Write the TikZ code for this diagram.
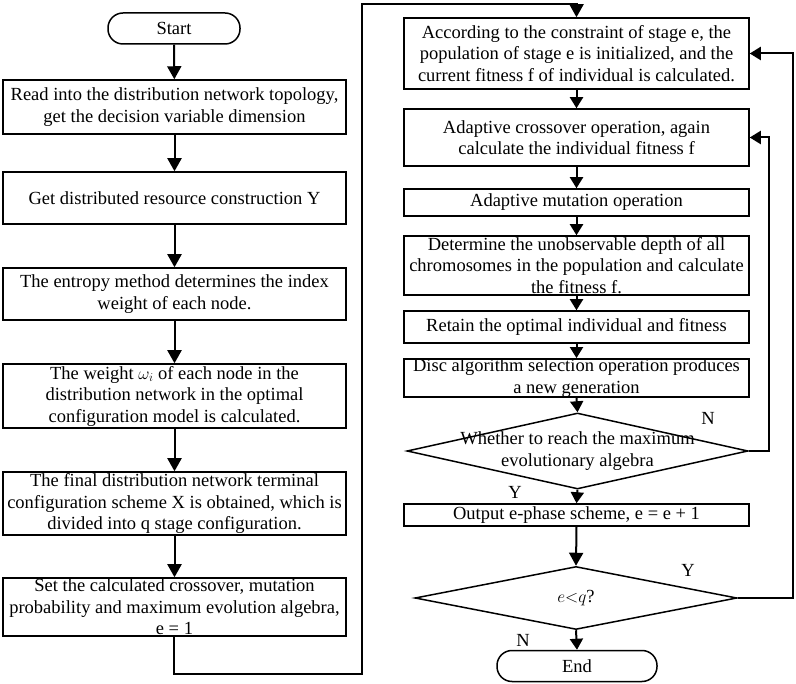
\documentclass[tikz,border=0pt]{standalone}
\usepackage{fontspec}
\setmainfont{Liberation Serif}
\usetikzlibrary{shapes.geometric,arrows.meta}
\begin{document}
\begin{tikzpicture}[x=1pt,y=-1pt,
  every node/.style={font=\fontsize{18.5}{21.5}\selectfont},
  box/.style={draw,line width=1.5pt,inner sep=0pt,align=center,minimum height=#1},
  lbox/.style={box=#1,minimum width=343pt},
  rbox/.style={box=#1,minimum width=345pt},
  term/.style={draw,line width=1.5pt,rounded corners=15pt,inner sep=0pt,minimum height=31pt},
  dia/.style={draw,line width=1.5pt,diamond,inner sep=0pt},
  arr/.style={line width=2pt,-{Triangle[width=14pt,length=13pt]}},
  sarr/.style={line width=2pt,-{Triangle[width=13pt,length=11pt]}},
  lab/.style={inner sep=0pt}]
\useasboundingbox (0,0) rectangle (796,684);
% left column
\node[term,minimum width=132pt] (start) at (174,28.5) {Start};
\node[lbox=54pt] (b1) at (174.5,107) {Read into the distribution network topology,\\get the decision variable dimension};
\node[lbox=52pt] (b2) at (174.5,198) {Get distributed resource construction Y};
\node[lbox=52pt] (b3) at (174.5,294) {The entropy method determines the index\\weight of each node.};
\node[lbox=64pt] (b4) at (174.5,396) {The weight $\omega_i$ of each node in the\\distribution network in the optimal\\configuration model is calculated.};
\node[lbox=63pt] (b5) at (174.5,503.5) {The final distribution network terminal\\configuration scheme X is obtained, which is\\divided into q stage configuration.};
\node[lbox=58pt] (b6) at (174.5,607) {Set the calculated crossover, mutation\\probability and maximum evolution algebra,\\e = 1};
% right column
\node[rbox=71pt] (r1) at (576.5,53.5) {According to the constraint of stage e, the\\population of stage e is initialized, and the\\current fitness f of individual is calculated.};
\node[rbox=57pt] (r2) at (576.5,137.5) {Adaptive crossover operation, again\\calculate the individual fitness f};
\node[rbox=27pt] (r3) at (576.5,202.5) {Adaptive mutation operation};
\node[rbox=59pt] (r4) at (576.5,265.5) {Determine the unobservable depth of all\\chromosomes in the population and calculate\\the fitness f.};
\node[rbox=32pt] (r5) at (576.5,327) {Retain the optimal individual and fitness};
\node[rbox=36pt] (r6) at (576.5,378) {Disc algorithm selection operation produces\\a new generation};
\node[dia,minimum width=341pt,minimum height=76pt,
  label={[align=center,inner sep=0pt]center:Whether to reach the maximum\\evolutionary algebra}] (d1) at (577.5,451) {};
\node[rbox=22pt] (r7) at (576.5,515) {Output e-phase scheme, e = e + 1};
\node[dia,minimum width=322pt,minimum height=63pt,
  label={[inner sep=0pt]center:$e{<}q$?}] (d2) at (576,598) {};
\node[term,minimum width=160pt] (end) at (577,666) {End};
% labels
\node[lab] (ln1) at (708,418) {N};
\node[lab] (ly1) at (515,492) {Y};
\node[lab] (ly2) at (688,570) {Y};
\node[lab] (ln2) at (523,640) {N};
% connectors left
\draw[arr] (start) -- (b1);
\draw[arr] (b1) -- (b2);
\draw[arr] (b2) -- (b3);
\draw[arr] (b3) -- (b4);
\draw[arr] (b4) -- (b5);
\draw[arr] (b5) -- (b6);
\coordinate (c1) at (174,674);
\coordinate (c2) at (362,674);
\coordinate (c3) at (362,4);
\coordinate (c4) at (r1.north |- 0,4);
\draw[arr] (b6.south -| c1) -- (c1) -- (c2) -- (c3) -- (c4) -- (r1.north);
% connectors right
\draw[sarr] (r1) -- (r2);
\draw[sarr] (r2) -- (r3);
\draw[sarr] (r3) -- (r4);
\draw[sarr] (r4) -- (r5);
\draw[sarr] (r5) -- (r6);
\draw[sarr] (r6.south) -- (d1.north);
\draw[sarr] (d1.south) -- (r7.north);
\draw[arr] (r7.south) -- (d2.north);
\draw[sarr] (d2.south) -- (end.north);
\coordinate (e1) at (769,451);
\coordinate (e2) at (769,137.5);
\draw[sarr] (d1.east) -- (e1) -- (e2) -- (r2.east);
\coordinate (f1) at (793,598);
\coordinate (f2) at (793,53.5);
\draw[sarr] (d2.east) -- (f1) -- (f2) -- (r1.east);
\end{tikzpicture}
\end{document}
